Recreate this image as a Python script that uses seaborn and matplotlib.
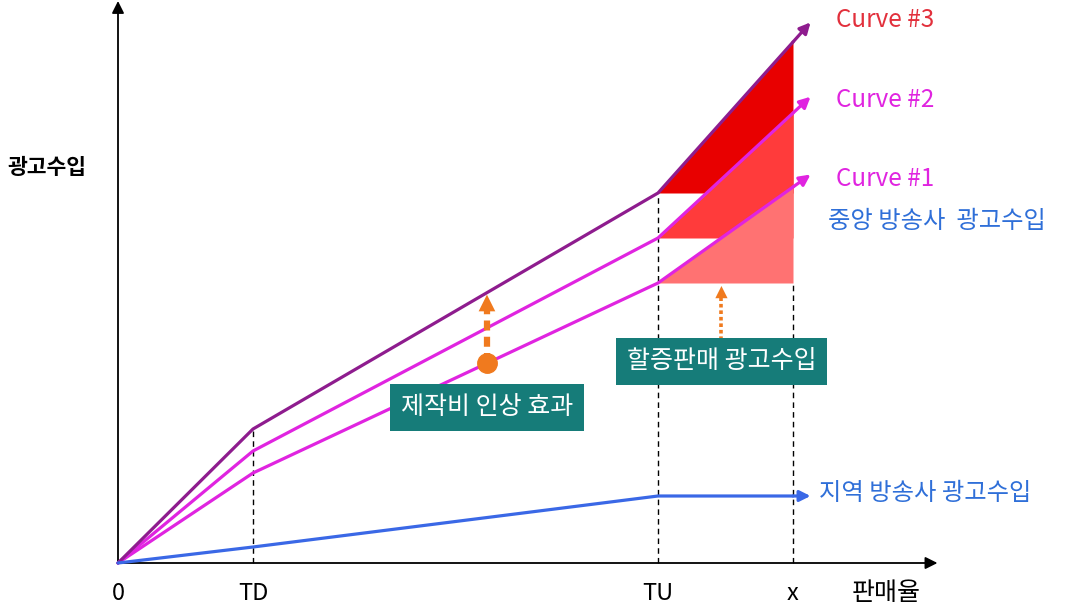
import numpy as np
import pandas as pd
import matplotlib
matplotlib.use("Agg")
import matplotlib.pyplot as plt
import seaborn as sns

# Sales levels: origin, TD, TU and x
x_pts = [0, 1, 4, 5]
tick_labels = ["0", "TD", "TU", "x"]

# Advertising revenue along each curve
curve1 = [0, 0.90, 2.80, 3.76]
curve2 = [0, 1.12, 3.25, 4.50]
curve3 = [0, 1.34, 3.70, 5.21]
local_rev = [0, 0.16, 0.67, 0.67]

series_names = ["Curve #1", "Curve #2", "Curve #3", "지역 방송사 광고수입"]
series_vals = [curve1, curve2, curve3, local_rev]

sns.set_theme(style="white")
plt.rcParams["font.family"] = ["Noto Sans CJK KR", "DejaVu Sans"]

purple = "#8E1C8E"
magenta = "#E024E0"
blue = "#3A68E6"
orange = "#F07A1E"
teal = "#167C79"
palette = {"Curve #1": magenta, "Curve #2": magenta, "Curve #3": purple,
           "지역 방송사 광고수입": blue}

df = pd.DataFrame({
    "sales": np.tile(x_pts, len(series_names)),
    "revenue": np.concatenate(series_vals),
    "series": np.repeat(series_names, len(x_pts)),
})

fig = plt.figure(figsize=(10.66, 6.06), dpi=100)
ax = fig.add_axes([0, 0, 1, 1])
ax.set_xlim(-118 / 135, (1066 - 118) / 135)
ax.set_ylim(-0.43, 5.63)
ax.axis("off")

# Axes with arrow heads
ax.annotate("", xy=(0, 5.62), xytext=(0, 0),
            arrowprops=dict(arrowstyle="-|>", color="black", lw=1.3, mutation_scale=18,
                            shrinkA=0, shrinkB=0))
ax.annotate("", xy=(6.07, 0), xytext=(0, 0),
            arrowprops=dict(arrowstyle="-|>", color="black", lw=1.3, mutation_scale=18,
                            shrinkA=0, shrinkB=0))

# Dashed guides at TD, TU and x
ax.vlines(x_pts[1], 0, curve3[1], colors="black", linestyles=(0, (4, 3)), lw=1, zorder=1)
ax.vlines(x_pts[2], 0, curve3[2], colors="black", linestyles=(0, (4, 3)), lw=1, zorder=1)
ax.vlines(x_pts[3], 0, curve1[2], colors="black", linestyles=(0, (4, 3)), lw=1, zorder=1)

# Extra revenue above the TU level for each curve
fills = [(curve3, "#E80000"), (curve2, "#FF3B3B"), (curve1, "#FF7272")]
for vals, col in fills:
    ax.fill_between(x_pts[2:], vals[2], vals[2:], color=col, lw=0, zorder=2)

sns.lineplot(data=df, x="sales", y="revenue", hue="series", palette=palette,
             lw=2.3, legend=False, ax=ax, zorder=3)

# Arrow heads continuing each line past x
x_tip = 5.13
for vals, name in zip(series_vals, series_names):
    slope = (vals[3] - vals[2]) / (x_pts[3] - x_pts[2])
    tip_y = vals[3] + slope * (x_tip - x_pts[3])
    ax.annotate("", xy=(x_tip, tip_y), xytext=(x_pts[3], vals[3]),
                arrowprops=dict(arrowstyle="-|>", color=palette[name], lw=2.3,
                                mutation_scale=16, shrinkA=0, shrinkB=0), zorder=3)

# Tick labels
for xv, lab in zip(x_pts, tick_labels):
    ax.text(xv, -0.30, lab, ha="center", va="center", fontsize=17, color="black")
ax.text(5.69, -0.30, "판매율", ha="center", va="center", fontsize=18, color="black")
ax.text(-0.53, 3.96, "광고수입", ha="center", va="center", fontsize=15.5,
        color="black", fontweight="bold")

# Series labels
lab_fs = 17.5
ax.text(5.32, 5.43, "Curve #3", ha="left", va="center", fontsize=lab_fs, color="#E2303C")
ax.text(5.32, 4.63, "Curve #2", ha="left", va="center", fontsize=lab_fs, color=magenta)
ax.text(5.32, 3.84, "Curve #1", ha="left", va="center", fontsize=lab_fs, color=magenta)
ax.text(5.26, 3.42, "중앙 방송사  광고수입", ha="left", va="center", fontsize=lab_fs,
        color="#2F6FD8")
ax.text(5.19, 0.70, "지역 방송사 광고수입", ha="left", va="center", fontsize=lab_fs,
        color="#2F6FD8")

# Effect of higher production cost: from curve 1 up to curve 3
xe = 2.733
y_lo = np.interp(xe, x_pts, curve1)
y_hi = np.interp(xe, x_pts, curve3)
ax.plot([xe], [y_lo], "o", color=orange, ms=14, zorder=5)
ax.plot([xe, xe], [y_lo, y_hi - 0.14], color=orange, lw=4.5, ls=(0, (1.6, 1.0)), zorder=5)
ax.annotate("", xy=(xe, y_hi - 0.02), xytext=(xe, y_hi - 0.16),
            arrowprops=dict(arrowstyle="-|>", color=orange, lw=0, mutation_scale=30,
                            shrinkA=0, shrinkB=0), zorder=5)
ax.text(xe, 1.56, "제작비 인상 효과", ha="center", va="center", fontsize=18, color="white",
        bbox=dict(boxstyle="square,pad=0.42", fc=teal, ec="none"), zorder=6)

# Premium-sales revenue arrow
xp = 4.47
ax.plot([xp, xp], [2.23, curve1[2] - 0.12], color=orange, lw=2.6, ls=(0, (1, 0.8)), zorder=5)
ax.annotate("", xy=(xp, curve1[2] - 0.03), xytext=(xp, curve1[2] - 0.14),
            arrowprops=dict(arrowstyle="-|>", color=orange, lw=0, mutation_scale=22,
                            shrinkA=0, shrinkB=0), zorder=5)
ax.text(xp, 2.02, "할증판매 광고수입", ha="center", va="center", fontsize=18, color="white",
        bbox=dict(boxstyle="square,pad=0.42", fc=teal, ec="none"), zorder=6)

fig.savefig("out.png", dpi=100)
